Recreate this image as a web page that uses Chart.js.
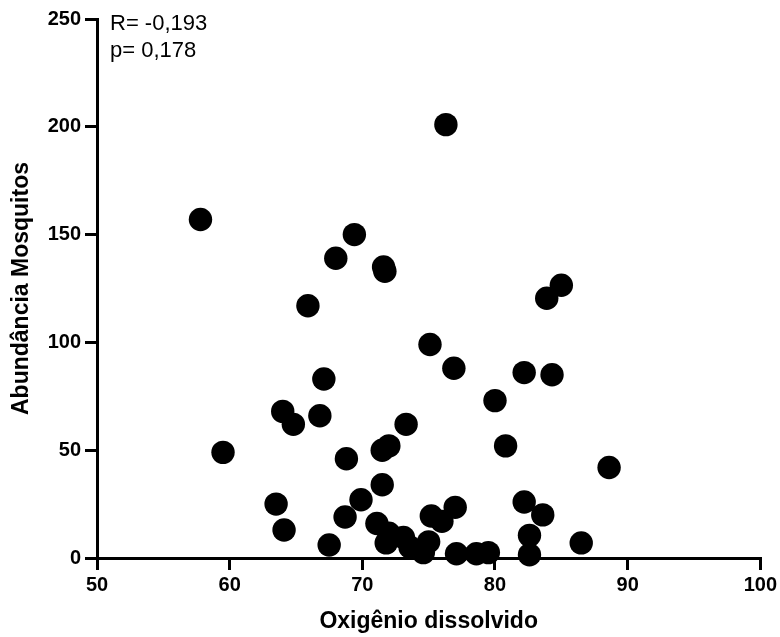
<!DOCTYPE html>
<html>
<head>
<meta charset="utf-8">
<script src="https://cdn.jsdelivr.net/npm/chart.js@4.4.1/dist/chart.umd.min.js"></script>
<style>
    html, body { margin: 0; padding: 0; background: #fff; }
    canvas { display: block; }
</style>
</head>
<body>
<canvas id="chart" width="780" height="637"></canvas>
<script>
// Oxigênio dissolvido (x) vs Abundância Mosquitos (y)
const oxigenio = [
    57.8, 59.5, 63.5, 64.0, 64.1, 64.8, 65.9, 66.8, 67.1, 67.5,
    68.0, 68.7, 68.8, 69.4, 69.9, 71.1, 71.6, 71.7, 71.5, 71.5,
    72.0, 72.0, 71.8, 73.1, 73.3, 73.6, 74.6, 75.0, 75.2, 75.1,
    76.0, 76.3, 76.9, 77.0, 77.1, 78.6, 79.5, 80.0, 80.8, 82.2,
    82.2, 82.6, 82.6, 83.6, 83.9, 84.3, 85.0, 86.5, 88.6
];
const abundancia = [
    157, 49, 25, 68, 13, 62, 117, 66, 83, 6,
    139, 19, 46, 150, 27, 16, 135, 133, 34, 50,
    52, 11.5, 7, 9.5, 62, 5, 2.5, 7.5, 19.5, 99,
    17, 201, 88, 23.5, 2, 2, 2.5, 73, 52, 86,
    26, 10.5, 1.5, 20, 120.5, 85, 126.5, 7, 42
];
const xTicks = [50, 60, 70, 80, 90, 100];
const yTicks = [0, 50, 100, 150, 200, 250];
const statLines = ['R= -0,193', 'p= 0,178'];

const FONT = "'Liberation Sans', Arial, sans-serif";

let points = oxigenio.map((x, i) => ({x: x, y: abundancia[i]}));

/**
 * Writes the correlation text in the upper left corner.
 */
const statsText = {
    id: 'stats_text',
    afterDraw: (chart) => {
        const ctx = chart.ctx;
        ctx.save();
        ctx.fillStyle = '#000';
        ctx.font = '22px ' + FONT;
        ctx.textBaseline = 'alphabetic';
        ctx.textAlign = 'left';
        ctx.fillText(statLines[0], 110, 30);
        ctx.fillText(statLines[1], 110, 57);
        ctx.restore();
    }
};

const axisBase = {
    border: {display: true, color: '#000', width: 3},
    grid: {drawOnChartArea: false, color: '#000', tickColor: '#000', tickLength: 12, lineWidth: 3}
};

new Chart(document.getElementById('chart'), {
    type: 'scatter',
    data: {
        datasets: [{
            data: points,
            backgroundColor: '#000',
            borderColor: '#000',
            borderWidth: 0,
            pointRadius: 11.7,
            pointHoverRadius: 11.7,
            clip: false
        }]
    },
    options: {
        responsive: false,
        animation: false,
        events: [],
        layout: {padding: {left: 0, right: 14, top: 19, bottom: 0}},
        plugins: {legend: {display: false}, tooltip: {enabled: false}},
        scales: {
            x: Object.assign({}, axisBase, {
                type: 'linear',
                min: 50,
                max: 100,
                afterBuildTicks: (scale) => { scale.ticks = xTicks.map(v => ({value: v})); },
                afterFit: (scale) => { scale.height = 79; },
                ticks: {color: '#000', padding: 3, font: {family: FONT, size: 20, weight: 'bold'}},
                title: {
                    display: true,
                    text: 'Oxigênio dissolvido',
                    color: '#000',
                    padding: {top: 0, bottom: 2},
                    font: {family: FONT, size: 23, weight: 'bold'}
                }
            }),
            y: Object.assign({}, axisBase, {
                type: 'linear',
                min: 0,
                max: 250,
                afterBuildTicks: (scale) => { scale.ticks = yTicks.map(v => ({value: v})); },
                afterFit: (scale) => { scale.width = 97; },
                ticks: {color: '#000', padding: 4, font: {family: FONT, size: 20, weight: 'bold'}},
                title: {
                    display: true,
                    text: 'Abundância Mosquitos',
                    color: '#000',
                    padding: {top: 8, bottom: 0},
                    font: {family: FONT, size: 23, weight: 'bold'}
                }
            })
        }
    },
    plugins: [statsText]
});
</script>
</body>
</html>
